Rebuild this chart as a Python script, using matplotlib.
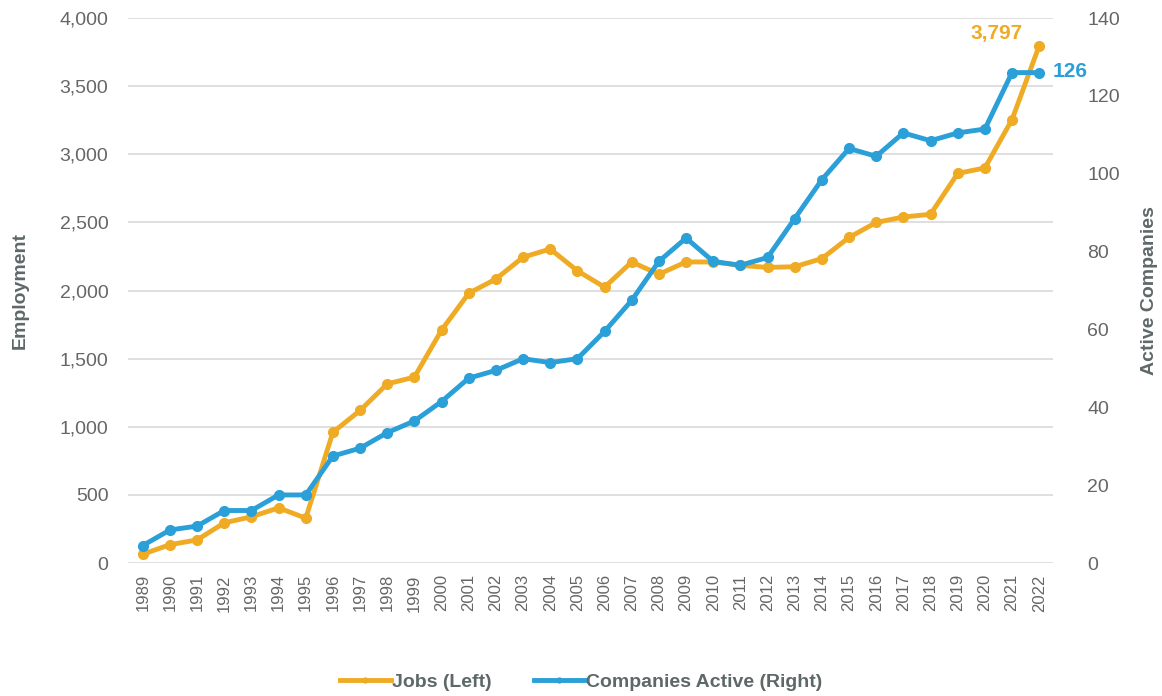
import numpy as np
import matplotlib
matplotlib.use('Agg')
import matplotlib.pyplot as plt
from matplotlib.ticker import FuncFormatter

plt.rcParams['font.family'] = ['Liberation Sans', 'DejaVu Sans']

years = list(range(1989, 2023))
jobs = [65, 135, 170, 295, 340, 405, 330, 960, 1120, 1315, 1365, 1710, 1980,
        2085, 2245, 2305, 2145, 2025, 2210, 2120, 2210, 2210, 2185, 2170,
        2175, 2235, 2390, 2500, 2540, 2560, 2860, 2900, 3255, 3797]
companies = [4.5, 8.5, 9.5, 13.5, 13.5, 17.5, 17.5, 27.5, 29.5, 33.5, 36.5,
             41.5, 47.5, 49.5, 52.5, 51.5, 52.5, 59.5, 67.5, 77.5, 83.5,
             77.5, 76.5, 78.5, 88.5, 98.5, 106.5, 104.5, 110.5, 108.5,
             110.5, 111.5, 126, 126]

orange = '#F0AB25'
blue = '#2A9FD8'
txt = '#5E6868'

fig = plt.figure(figsize=(11.62, 6.96), dpi=100)
ax = fig.add_axes([0.110, 0.191, 0.796, 0.783])
ax2 = ax.twinx()

ax.plot(years, jobs, color=orange, lw=3.5, marker='o', ms=7, zorder=3,
        label='Jobs (Left)')
ax2.plot(years, companies, color=blue, lw=3.5, marker='o', ms=7, zorder=3,
         label='Companies Active (Right)')

ax.set_xlim(1988.45, 2022.5)
ax.set_ylim(0, 4000)
ax2.set_ylim(0, 140)
ax.set_yticks(np.arange(0, 4001, 500))
ax2.set_yticks(np.arange(0, 141, 20))
ax.yaxis.set_major_formatter(FuncFormatter(lambda v, p: '{:,.0f}'.format(v)))
ax.set_xticks(years)
ax.set_xticklabels([str(y) for y in years], rotation=90)

ax.grid(axis='y', color='#D9D9D9', lw=1.2)
ax.set_axisbelow(True)
for a in (ax, ax2):
    for s in a.spines.values():
        s.set_visible(False)
    a.tick_params(length=0, colors='#666666', labelsize=14)
ax.tick_params(axis='x', labelsize=12, pad=8)
ax.tick_params(axis='y', pad=14)
ax2.tick_params(axis='y', pad=25)

ax.set_ylabel('Employment', fontsize=14, fontweight='bold', color=txt,
              labelpad=22)
ax2.set_ylabel('Active Companies', fontsize=14, fontweight='bold', color=txt,
               rotation=90, labelpad=15)

ax.annotate('{:,}'.format(jobs[-1]), (years[-1], jobs[-1]),
            xytext=(-12, 9), textcoords='offset points', ha='right',
            va='center', color=orange, fontsize=15, fontweight='bold')
ax2.annotate(str(companies[-1]), (years[-1], companies[-1]),
             xytext=(10, 1), textcoords='offset points', ha='left',
             va='center', color=blue, fontsize=15, fontweight='bold')

h1, l1 = ax.get_legend_handles_labels()
h2, l2 = ax2.get_legend_handles_labels()
leg = fig.legend(h1 + h2, l1 + l2, loc='center', bbox_to_anchor=(0.5, 0.02),
                 ncol=2, frameon=False, fontsize=14, handlelength=2.6,
                 columnspacing=2.2, handletextpad=0.05, markerscale=0.5)
for t in leg.get_texts():
    t.set_color(txt)
    t.set_fontweight('bold')

fig.savefig('out.png', dpi=100)
